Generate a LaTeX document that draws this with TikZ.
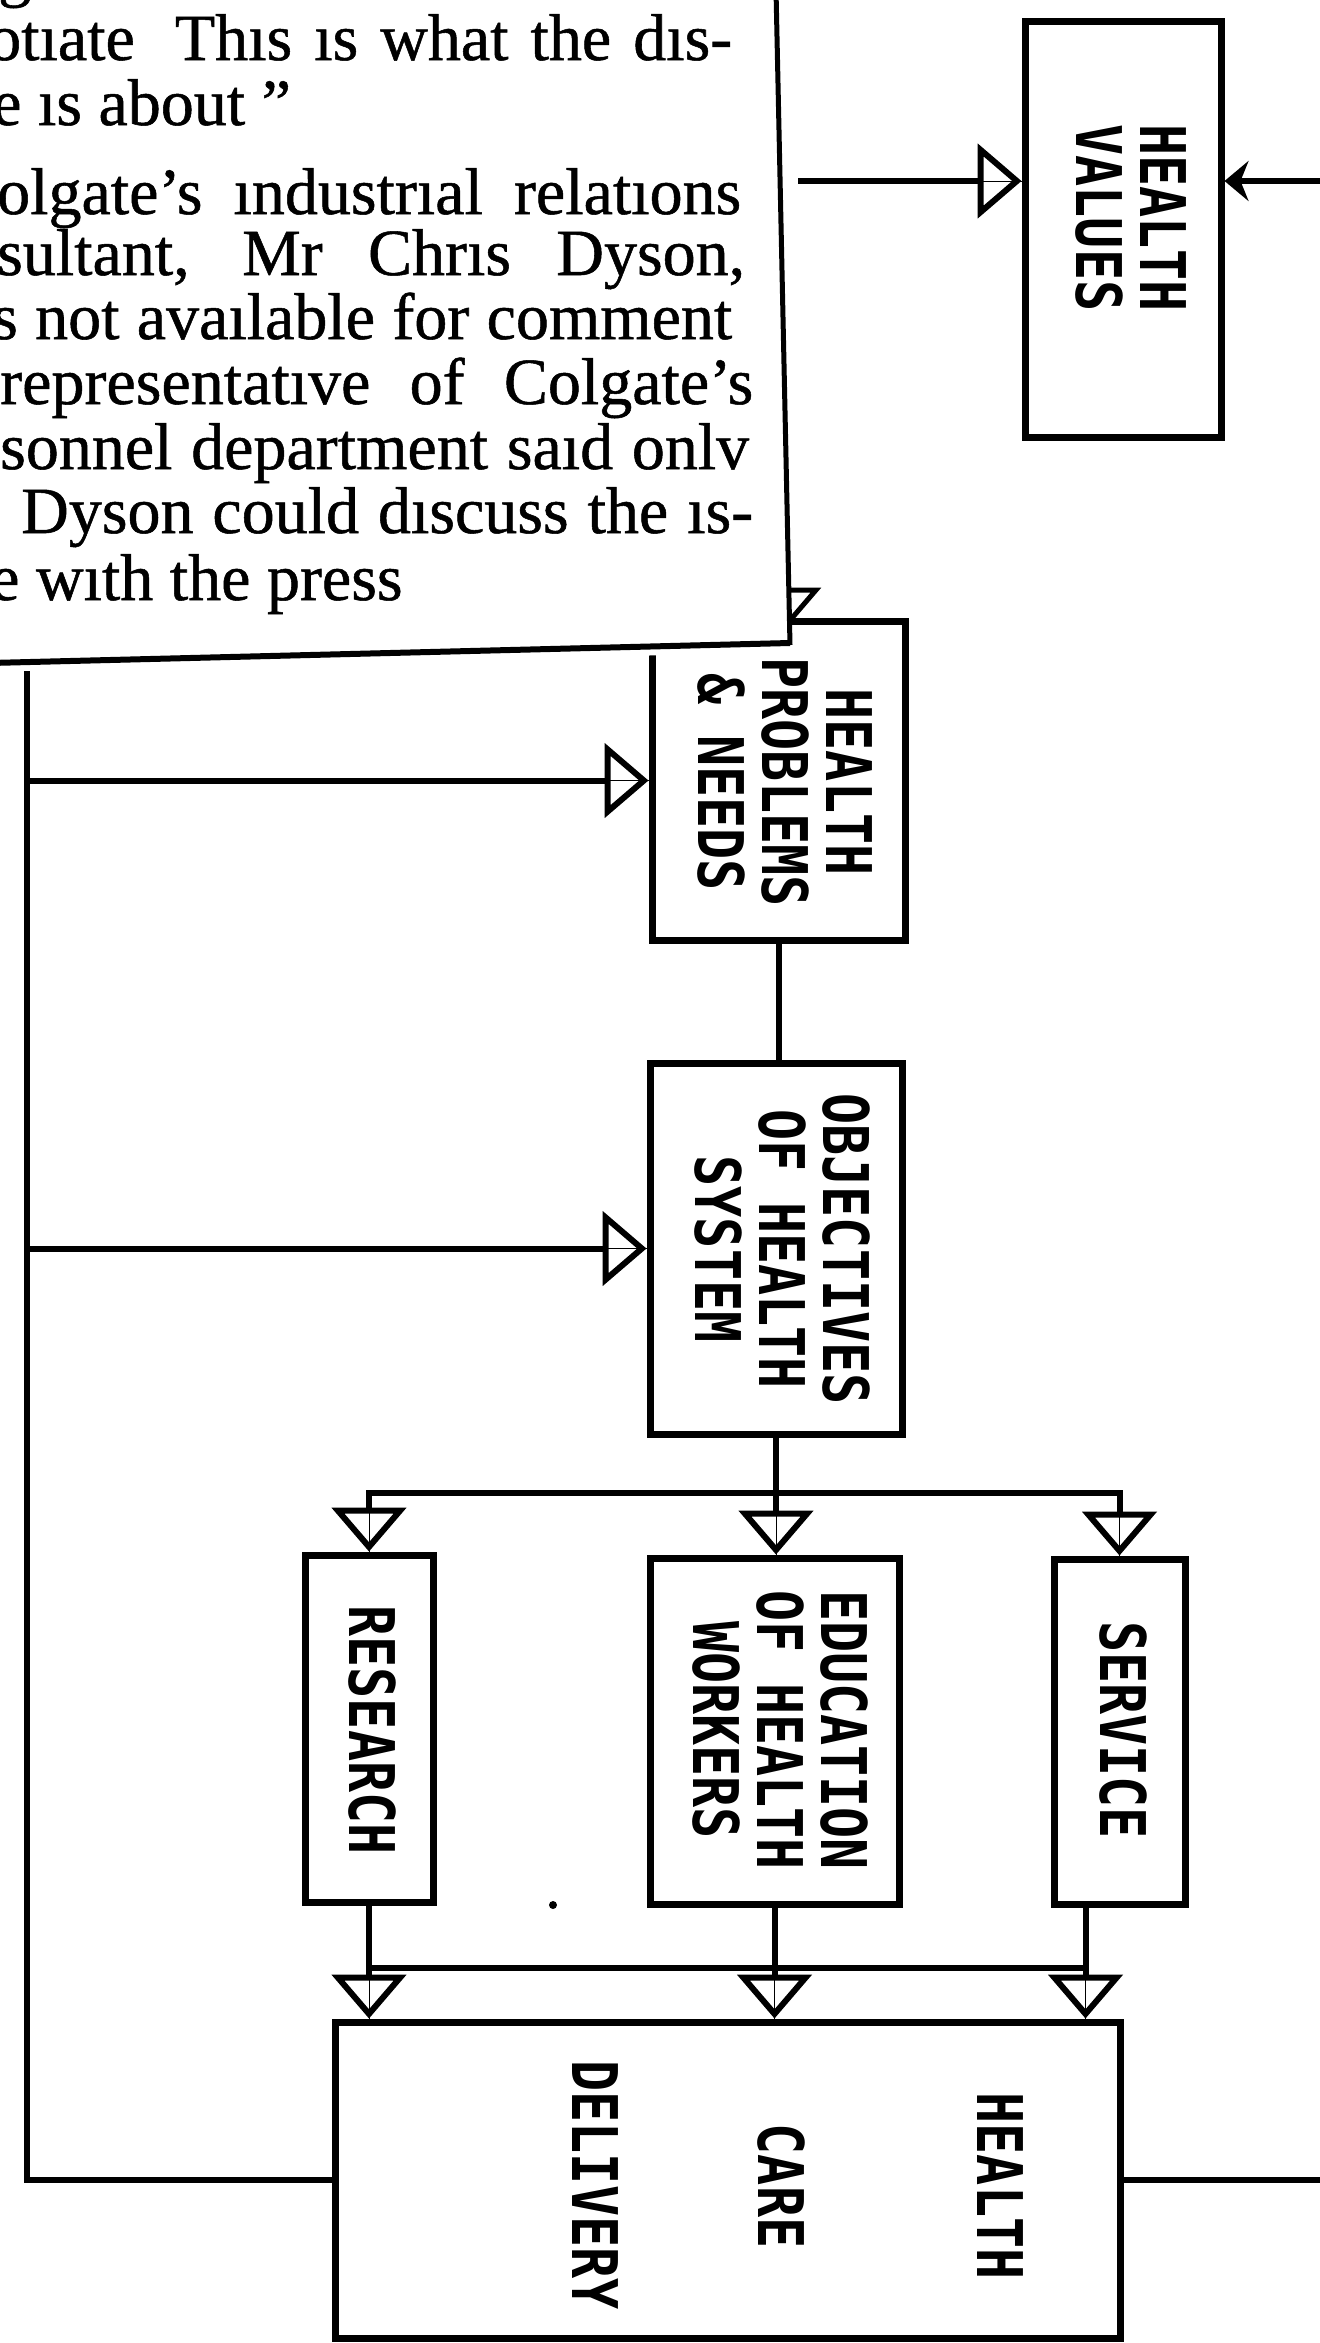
\documentclass[tikz,border=0pt]{standalone}
\usepackage{fontspec}
\setmainfont{Liberation Serif}
\newfontfamily\newsfont[FakeBold=0.8]{Liberation Serif}
\newfontfamily\labfont[FakeStretch=0.82]{DejaVu Sans Mono}
\usetikzlibrary{arrows.meta}
\begin{document}
\begin{tikzpicture}[x=1pt,y=-1pt,
  blk/.style 2 args={draw, line width=7pt, minimum width=#1pt, minimum height=#2pt, inner sep=0pt},
  conn/.style={line width=6pt},
  tri/.style={-{Triangle[open,length=44pt,width=74pt]}, preaction={draw,arrows=-}},
  lab/.style={font={\labfont\bfseries\fontsize{63pt}{64pt}\selectfont}, align=center, rotate=-90, inner sep=0pt},
  news/.style={font={\newsfont\fontsize{66pt}{65pt}\selectfont}, anchor=base west, inner sep=0pt},
  ]
\useasboundingbox (0,0) rectangle (1320,2343);
\clip (0,0) rectangle (1320,2343);
\fill[white] (0,0) rectangle (1320,2343);

% boxes
\node[blk={196}{416}] (hv) at (1123,229) {};
\node[blk={253}{319}] (hp) at (778.5,780.5) {};
\node[blk={252}{371}] (obj) at (776,1248.5) {};
\node[blk={128}{347}] (res) at (369,1728.5) {};
\node[blk={249}{346}] (edu) at (774.5,1731) {};
\node[blk={131}{345}] (ser) at (1119.5,1731.5) {};
\node[blk={785}{316}] (hcd) at (727.5,2180) {};

% labels
\node[lab] (hvt) at (1131,218) {HEALTH\\VALUES};
\node[lab] (hpt) at (785,782) {HEALTH\\PROBLEMS\\\& NEEDS};
\node[lab] (objt) at (782,1249) {OBJECTIVES\\OF HEALTH\\SYSTEM};
\node[lab] (rest) at (372,1730) {RESEARCH};
\node[lab] (edut) at (780,1730) {EDUCATION\\OF HEALTH\\WORKERS};
\node[lab] (sert) at (1123,1730) {SERVICE};
\node[lab] (hcd1) at (1000,2186) {HEALTH};
\node[lab] (hcd2) at (781,2186) {CARE};
\node[lab] (hcd3) at (595,2185) {DELIVERY};

% coordinates
\coordinate (lt) at (27,640);
\coordinate (hvsrc) at (798,181);
\coordinate (rt) at (1345,181);
\coordinate (br) at (776,1493);
\coordinate (hb) at (0,1968);
\coordinate (sb) at ([xshift=-34pt]ser.south);

% connectors
\draw[conn] (hcd.west) -| (lt);
\draw[conn,tri] (hp.west -| lt) -- (hp.west);
\draw[conn,tri] (obj.west -| lt) -- (obj.west);
\draw[conn,tri] (hvsrc) -- (hvsrc -| hv.west);
\draw[conn,-{Stealth[length=24pt,width=40pt,inset=8pt]}] (hcd.east) -| (rt) -- (rt -| hv.east);
\draw[conn] (hp.south) -- (hp.south |- obj.north);
\draw[conn] (obj.south) -- (br);
\draw[conn,tri] (br) -| (res.north);
\draw[conn,tri] (br) -| (ser.north);
\draw[conn,tri] (br) -- (edu.north -| br);
\draw[conn,tri] (res.south) -- (res.south |- hcd.north);
\draw[conn,tri] (edu.south) -- (edu.south |- hcd.north);
\draw[conn,tri] (sb) -- (sb |- hcd.north);
\draw[conn] (res.south |- hb) -- (sb |- hb);
\fill (553,1905) circle[radius=4pt];

% newspaper clipping
\fill[white] (-20,-20) -- (777,-20) -- (791,652) -- (-20,672) -- cycle;
\draw[line width=5pt] (776,-10) -- (790,645);
\draw[line width=6pt] (790,643) -- (-10,663);
\draw[line width=5pt] (790,590) -- (816,590) -- (792,618);
\node[news] (t0) at (-2,-6) {g};
\node[news] (t1) at (-12,60) {\makebox[744pt][s]{otıate\hspace{18pt} Thıs ıs what the dıs-}};
\node[news] (t2) at (-8,125) {e ıs about ”};
\node[news] (t3) at (-3,214) {\makebox[744pt][s]{olgate’s ındustrıal relatıons}};
\node[news] (t4) at (-3,275) {\makebox[748pt][s]{sultant, Mr Chrıs Dyson,}};
\node[news] (t5) at (-8,339) {\makebox[740pt][s]{s not avaılable for comment}};
\node[news] (t6) at (0,404) {\makebox[753pt][s]{representatıve of Colgate’s}};
\node[news] (t7) at (0,469) {\makebox[749pt][s]{sonnel department saıd onlv}};
\node[news] (t8) at (21,533) {\makebox[732pt][s]{Dyson could dıscuss the ıs-}};
\node[news] (t9) at (-10,600) {e wıth the press};
\end{tikzpicture}
\end{document}
